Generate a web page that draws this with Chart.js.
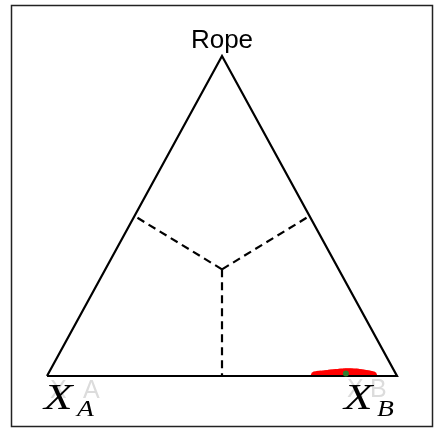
<!DOCTYPE html>
<html>
<head>
<meta charset="utf-8">
<script src="https://cdn.jsdelivr.net/npm/chart.js@4"></script>
<style>
  body { margin: 0; background: #fff; }
  canvas { display: block; }
</style>
</head>
<body>
<canvas id="ternary" width="445" height="440"></canvas>
<script>
// corner labels
const cornerNames = ['X_A', 'X_B', 'Rope'];

// samples: fraction of X_B and of Rope (rest is X_A)
const sampleXB = [0.766, 0.774, 0.781, 0.790, 0.797, 0.805, 0.812, 0.820, 0.826, 0.833, 0.840,
  0.846, 0.852, 0.858, 0.864, 0.870, 0.876, 0.882, 0.889, 0.895, 0.902, 0.909, 0.916, 0.923, 0.930,
  0.800, 0.830, 0.850, 0.870, 0.890, 0.910, 0.815, 0.860, 0.900];
const sampleRope = [0.001, 0.002, 0.003, 0.004, 0.005, 0.006, 0.007, 0.008, 0.008, 0.009, 0.009,
  0.010, 0.010, 0.010, 0.010, 0.009, 0.009, 0.009, 0.008, 0.007, 0.006, 0.005, 0.004, 0.002, 0.001,
  0.001, 0.002, 0.004, 0.003, 0.001, 0.002, 0.001, 0.005, 0.003];

// mean sample
const meanXB = [0.850];
const meanRope = [0.008];

// ternary (xb, rope) -> plot coords
function toXY(xb, rope) {
  return { x: xb + rope / 2, y: rope };
}

const corners = [toXY(0, 0), toXY(1, 0), toXY(0, 1)];
const centre = toXY(1 / 3, 1 / 3);
const mids = [toXY(0.5, 0), toXY(0, 0.5), toXY(0.5, 0.5)];

const samplePoints = sampleXB.map((b, i) => toXY(b, sampleRope[i]));
const meanPoints = meanXB.map((b, i) => toXY(b, meanRope[i]));

const dashed = mids.map(m => ({
  data: [centre, m],
  showLine: true,
  borderColor: '#000',
  borderWidth: 2.2,
  borderDash: [8, 5],
  pointRadius: 0,
  clip: false,
  order: 4
}));

// frame + text labels
const decorPlugin = {
  id: 'decor',
  beforeDraw(chart) {
    const ctx = chart.ctx;
    ctx.save();
    ctx.strokeStyle = '#222';
    ctx.lineWidth = 1.5;
    ctx.strokeRect(11.5, 5.5, 421, 421);
    ctx.restore();
  },
  afterDraw(chart) {
    const ctx = chart.ctx;
    const sx = chart.scales.x, sy = chart.scales.y;
    const px = corners.map(c => [sx.getPixelForValue(c.x), sy.getPixelForValue(c.y)]);
    ctx.save();

    // top label
    ctx.fillStyle = '#000';
    ctx.font = '26px "Liberation Sans", Arial, sans-serif';
    ctx.textAlign = 'center';
    ctx.textBaseline = 'alphabetic';
    ctx.fillText(cornerNames[2], px[2][0], px[2][1] - 8);

    // faint labels behind
    ctx.textAlign = 'left';
    ctx.fillStyle = '#dcdcdc';
    ctx.font = '25px "Liberation Sans", Arial, sans-serif';
    ctx.fillText('X', px[0][0] + 3, px[0][1] + 22);
    ctx.fillText('A', px[0][0] + 36, px[0][1] + 22);
    ctx.fillText('X', px[1][0] - 50, px[1][1] + 21);
    ctx.fillText('B', px[1][0] - 27, px[1][1] + 21);

    // math labels
    ctx.fillStyle = '#000';
    [[0, 'A', -3], [1, 'B', -53]].forEach(([i, sub, dx]) => {
      const x0 = px[i][0] + dx, y0 = px[i][1] + 33;
      ctx.save();
      ctx.translate(x0, y0);
      ctx.scale(1.3, 1);
      ctx.font = 'italic 36px "Liberation Serif", "Times New Roman", serif';
      ctx.fillText('X', 0, 0);
      ctx.restore();
      ctx.save();
      ctx.translate(x0 + 33, y0 + 7);
      ctx.scale(1.15, 1);
      ctx.font = 'italic 24px "Liberation Serif", "Times New Roman", serif';
      ctx.fillText(sub, 0, 0);
      ctx.restore();
    });
    ctx.restore();
  }
};

new Chart(document.getElementById('ternary'), {
  type: 'scatter',
  data: {
    datasets: [
      {
        data: meanPoints,
        pointRadius: 3,
        pointBackgroundColor: '#2e7d2e',
        pointBorderWidth: 0,
        clip: false,
        order: 0
      },
      {
        data: [corners[0], corners[1], corners[2], corners[0]],
        showLine: true,
        borderColor: '#000',
        borderWidth: 2.2,
        pointRadius: 0,
        clip: false,
        order: 1
      },
      {
        data: samplePoints,
        pointRadius: 4.5,
        pointBackgroundColor: '#ff0000',
        pointBorderWidth: 0,
        clip: { left: 20, right: 20, top: 20, bottom: 0 },
        order: 2
      },
      ...dashed
    ]
  },
  options: {
    responsive: false,
    animation: false,
    events: [],
    layout: { padding: { left: 47, right: 48, top: 56, bottom: 64 } },
    scales: {
      x: { type: 'linear', min: 0, max: 1, display: false },
      y: { type: 'linear', min: 0, max: 1, display: false }
    },
    plugins: {
      legend: { display: false },
      tooltip: { enabled: false }
    }
  },
  plugins: [decorPlugin]
});
</script>
</body>
</html>
